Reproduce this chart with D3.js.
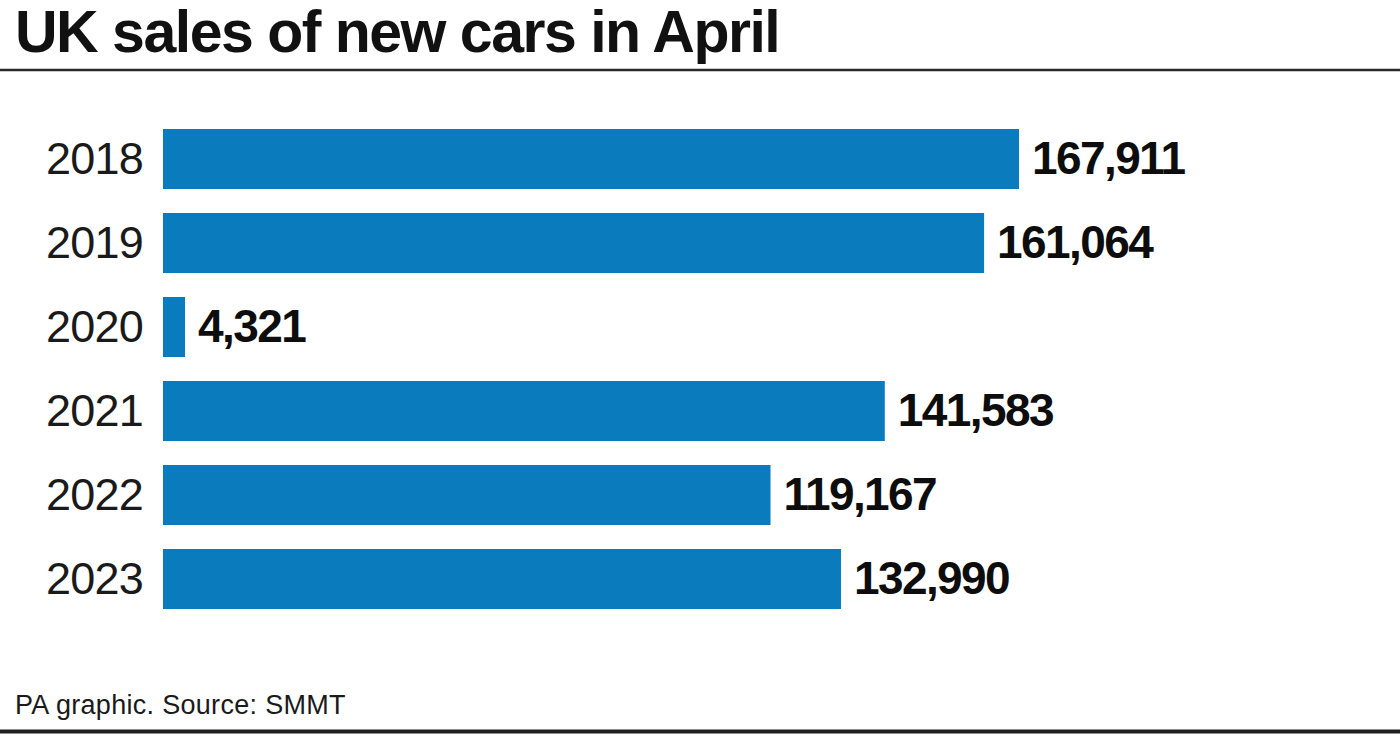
<!DOCTYPE html>
<html>
<head>
<meta charset="utf-8">
<script src="https://cdn.jsdelivr.net/npm/d3@7"></script>
<style>
  body { margin: 0; background: #fff; }
  text { font-family: "Liberation Sans", Arial, Helvetica, sans-serif; }
</style>
</head>
<body>
<div id="main"></div>
<script>
(function(){

  const years = ["2018", "2019", "2020", "2021", "2022", "2023"]
  const sales = [167911, 161064, 4321, 141583, 119167, 132990]
  const title = "UK sales of new cars in April"
  const source = "PA graphic. Source: SMMT"

  const width = 1400
  const height = 742
  const barColor = "#0a7bbd"

  const data = years.map((y, i) => ({year: y, value: sales[i]}))

  const svg = d3.select("#main").append("svg")
    .attr("width", width)
    .attr("height", height)

  // title + rule under it
  svg.append("text")
    .attr("x", 15)
    .attr("y", 51.5)
    .attr("font-size", 59)
    .attr("font-weight", "bold")
    .attr("letter-spacing", -1.5)
    .attr("fill", "#111")
    .text(title)

  svg.append("line")
    .attr("x1", 0).attr("x2", width)
    .attr("y1", 70).attr("y2", 70)
    .attr("stroke", "#2a2a2a")
    .attr("stroke-width", 2.5)

  const xScale = d3.scaleLinear()
    .domain([0, 170000])
    .range([163, 163 + 170000 * 856 / 167911])

  const yScale = d3.scaleBand()
    .domain(years)
    .range([117, 621])
    .paddingInner(24 / 84)
    .paddingOuter(12 / 84)

  const yAxis = d3.axisLeft(yScale)
    .tickSize(0)
    .tickPadding(0)

  const axisG = svg.append("g")
    .attr("transform", `translate(143,0)`)
    .call(yAxis)

  axisG.select(".domain").remove()
  axisG.selectAll("text")
    .attr("font-size", 45)
    .attr("font-family", "Liberation Sans, Arial, sans-serif")
    .attr("letter-spacing", -0.8)
    .attr("fill", "#1a1a1a")
    .attr("dy", null)
    .attr("y", 14.5)

  const rows = svg.append("g")
    .selectAll("g")
    .data(data)
    .join("g")

  rows.append("rect")
    .attr("x", xScale(0))
    .attr("y", d => yScale(d.year))
    .attr("width", d => xScale(d.value) - xScale(0))
    .attr("height", yScale.bandwidth())
    .attr("fill", barColor)

  rows.append("text")
    .attr("x", d => xScale(d.value) + 13)
    .attr("y", d => yScale(d.year) + yScale.bandwidth() / 2 + 14.5)
    .attr("font-size", 46)
    .attr("font-weight", "bold")
    .attr("letter-spacing", -1.6)
    .attr("fill", "#0d0d0d")
    .text(d => d3.format(",")(d.value))

  // footer
  svg.append("text")
    .attr("x", 15)
    .attr("y", 714)
    .attr("font-size", 27)
    .attr("letter-spacing", 0.3)
    .attr("fill", "#1a1a1a")
    .text(source)

  svg.append("line")
    .attr("x1", 0).attr("x2", width)
    .attr("y1", 731.5).attr("y2", 731.5)
    .attr("stroke", "#1e1e1e")
    .attr("stroke-width", 4)
}())
</script>
</body>
</html>
